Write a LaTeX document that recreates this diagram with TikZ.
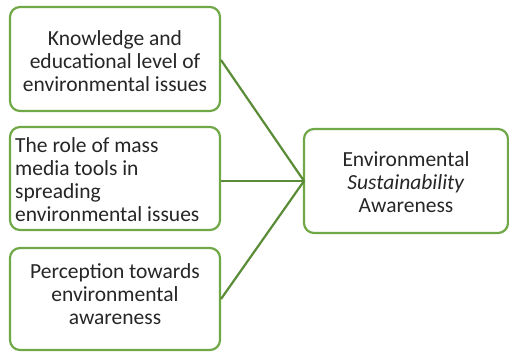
\documentclass[tikz,border=0pt]{standalone}
\usepackage{fontspec}
\setmainfont{Carlito}
\definecolor{boxgreen}{RGB}{112,168,71}
\definecolor{linkgreen}{RGB}{90,140,55}
\begin{document}
\begin{tikzpicture}[x=1pt,y=-1pt,
  factor/.style={draw=boxgreen,line width=2.2pt,rounded corners=10pt,fill=white},
  label/.style={font=\fontsize{21.5}{23}\selectfont,text=black!85,align=center,inner sep=0pt},
  link/.style={draw=linkgreen,line width=2.2pt}]
\useasboundingbox (0,0) rectangle (509,351);
% factor boxes
\draw[factor] (10,7) rectangle (220,111);
\node[label] (k) at (115,61) {Knowledge and\\educational level of\\environmental issues};
\draw[factor] (10,127) rectangle (220,230);
\node[label,align=left,anchor=west] (m) at (15,180) {The role of mass\\media tools in\\spreading\\environmental issues};
\draw[factor] (10,248) rectangle (220,350);
\node[label] (p) at (115,294) {Perception towards\\environmental\\awareness};
% outcome box
\draw[factor] (304,129) rectangle (508,233);
\node[label] (e) at (406,182) {Environmental\\\textit{Sustainability}\\Awareness};
% connectors
\coordinate (k1) at (221,60);
\coordinate (m1) at (221,181);
\coordinate (p1) at (221,299);
\coordinate (j) at (304,181);
\draw[link] (k1) -- (j);
\draw[link] (m1) -- (j);
\draw[link] (p1) -- (j);
\end{tikzpicture}
\end{document}
